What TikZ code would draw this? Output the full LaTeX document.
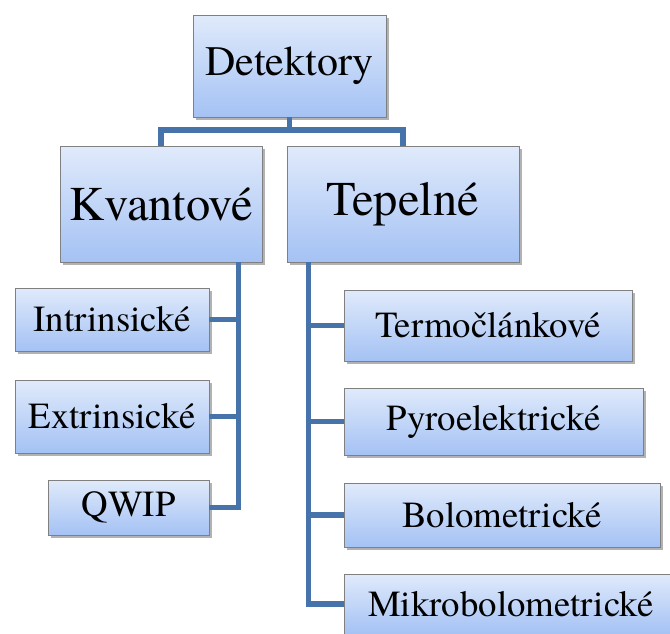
\documentclass[tikz,border=0pt]{standalone}
\usepackage{fontspec}
\setmainfont{texgyretermes-regular.otf}
\usetikzlibrary{shadows}

\definecolor{boxtop}{RGB}{224,234,251}
\definecolor{boxbottom}{RGB}{164,194,244}
\definecolor{boxline}{RGB}{128,128,128}
\definecolor{linkblue}{RGB}{69,115,170}

\tikzset{
  box/.style={draw=boxline, line width=0.9pt, top color=boxtop, bottom color=boxbottom,
    inner sep=0pt, align=center,
    drop shadow={shadow xshift=2.5pt, shadow yshift=-3pt, opacity=0.3, fill=black}},
  bigbox/.style={box, font=\fontsize{48.5}{58}\selectfont},
  topbox/.style={box, font=\fontsize{42}{50}\selectfont},
  leafbox/.style={box, font=\fontsize{36.8}{44}\selectfont},
  link/.style={draw=linkblue, line width=5.5pt}
}

\begin{document}
\begin{tikzpicture}[x=1pt, y=-1pt]
\path[use as bounding box] (0,0) rectangle (670,633);
\clip (0,0) rectangle (670,633);

% Root
\node[topbox, minimum width=193pt, minimum height=102pt] (det) at (289.5,66) {Detektory};

% Groups
\node[bigbox, minimum width=202pt, minimum height=116pt] (kva) at (161,204) {Kvantové};
\node[bigbox, minimum width=232pt, minimum height=116pt] (tep) at (403,204) {Tepelné};

% Quantum detectors
\node[leafbox, minimum width=194pt, minimum height=63pt] (intr) at (112,319.5) {Intrinsické};
\node[leafbox, minimum width=194pt, minimum height=73pt] (extr) at (112,416.5) {Extrinsické};
\node[leafbox, minimum width=161pt, minimum height=55pt] (qwip) at (128.5,507.5) {QWIP};

% Thermal detectors
\node[leafbox, minimum width=288pt, minimum height=71pt] (term) at (488,325.5) {Termočlánkové};
\node[leafbox, minimum width=299pt, minimum height=67pt] (pyro) at (493.5,421.5) {Pyroelektrické};
\node[leafbox, minimum width=316pt, minimum height=64pt] (bolo) at (502,515) {Bolometrické};
\node[leafbox, minimum width=334pt, minimum height=60pt] (mikro) at (511,604) {Mikrobolometrické};

% Links
\coordinate (fork) at (289.5,130);
\coordinate (kbus) at ([xshift=-24pt]kva.south east);
\coordinate (tbus) at ([xshift=22pt]tep.south west);

\draw[link] (det) -- (fork);
\draw[link] (kva.north) |- (fork) -| (tep.north);

\draw[link] (kbus) |- (qwip.east);
\draw[link] (intr.east) -- (intr.east -| kbus);
\draw[link] (extr.east) -- (extr.east -| kbus);

\draw[link] (tbus) |- (mikro.west);
\draw[link] (term.west) -- (term.west -| tbus);
\draw[link] (pyro.west) -- (pyro.west -| tbus);
\draw[link] (bolo.west) -- (bolo.west -| tbus);
\end{tikzpicture}
\end{document}
